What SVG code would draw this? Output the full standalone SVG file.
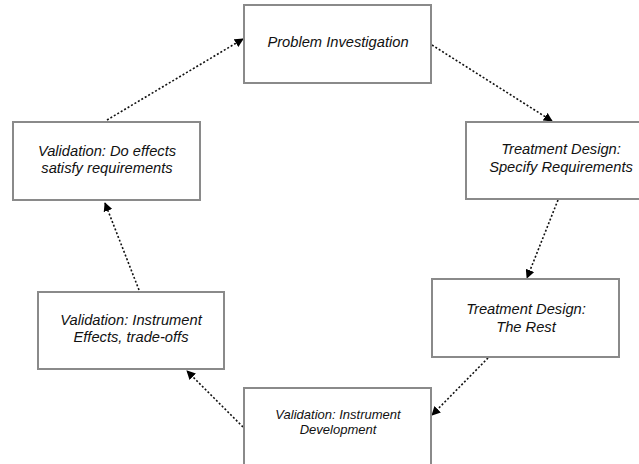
<svg xmlns="http://www.w3.org/2000/svg" width="639" height="464" viewBox="0 0 639 464">
<style>
.box{fill:#fff;stroke:#8a8a8a;stroke-width:2}
.t{font-family:"Liberation Sans",Arial,sans-serif;font-style:italic;font-size:14.7px;fill:#111;text-anchor:middle}
.s{font-size:13px}
.c{fill:none;stroke:#111;stroke-width:1.6;stroke-dasharray:2 2}
</style>
<defs>
<marker id="ah" viewBox="0 0 10 10" refX="9" refY="5" markerWidth="9" markerHeight="9" markerUnits="userSpaceOnUse" orient="auto">
<path d="M0,0 L10,5 L0,10 z" fill="#000"/>
</marker>
</defs>
<rect width="639" height="464" fill="#fff"/>
<g id="connectors">
<line class="c" x1="432" y1="45" x2="552" y2="121" marker-end="url(#ah)"/>
<line class="c" x1="558" y1="200" x2="527" y2="278" marker-end="url(#ah)"/>
<line class="c" x1="488" y1="358" x2="432" y2="415" marker-end="url(#ah)"/>
<line class="c" x1="243" y1="427" x2="187" y2="371" marker-end="url(#ah)"/>
<line class="c" x1="139" y1="290" x2="105" y2="203" marker-end="url(#ah)"/>
<line class="c" x1="107" y1="120" x2="243" y2="39" marker-end="url(#ah)"/>
</g>
<g id="problem-investigation">
<rect class="box" x="244" y="5" width="187" height="78"/>
<text class="t" x="338" y="47">Problem Investigation</text>
</g>
<g id="treatment-specify">
<rect class="box" x="466" y="122" width="187" height="77"/>
<text class="t" x="561" y="154">Treatment Design:</text>
<text class="t" x="561" y="172">Specify Requirements</text>
</g>
<g id="treatment-rest">
<rect class="box" x="432" y="279" width="187" height="78"/>
<text class="t" x="526" y="314">Treatment Design:</text>
<text class="t" x="526" y="332">The Rest</text>
</g>
<g id="validation-development">
<rect class="box" x="244" y="388" width="187" height="78"/>
<text class="t s" x="338" y="419">Validation: Instrument</text>
<text class="t s" x="338" y="434">Development</text>
</g>
<g id="validation-effects">
<rect class="box" x="38" y="292" width="186" height="77"/>
<text class="t" x="131" y="325">Validation: Instrument</text>
<text class="t" x="131" y="342">Effects, trade-offs</text>
</g>
<g id="validation-satisfy">
<rect class="box" x="13" y="122" width="187" height="78"/>
<text class="t" x="107" y="156">Validation: Do effects</text>
<text class="t" x="107" y="173">satisfy requirements</text>
</g>
</svg>
